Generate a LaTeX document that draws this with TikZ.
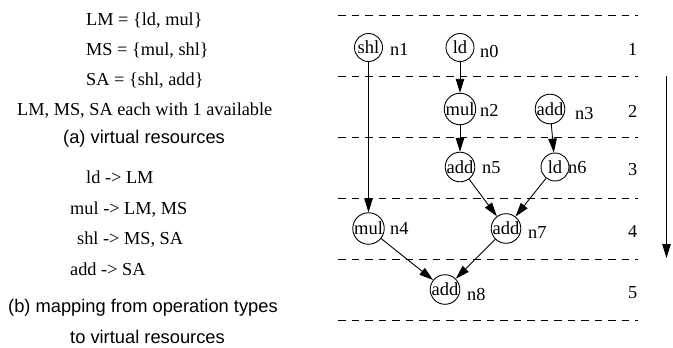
\documentclass[tikz,border=0pt]{standalone}
\usepackage{fontspec}
\setmainfont{Liberation Serif}
\setsansfont{Liberation Sans}
\usetikzlibrary{arrows.meta}
\tikzset{
  txt/.style={font=\fontsize{18.3}{22}\selectfont, inner sep=0pt, anchor=base west},
  captxt/.style={txt, font=\sffamily\fontsize{18.3}{22}\selectfont},
  op/.style={draw, circle, line width=0.9pt, minimum size=28pt, inner sep=0pt,
    font=\fontsize{18.5}{22}\selectfont},
  lbl/.style={txt},
  row/.style={line width=0.9pt, dash pattern=on 7.5pt off 6pt},
  dep/.style={line width=0.9pt, -{Triangle[length=14pt,width=8.5pt]}},
}
\begin{document}
\begin{tikzpicture}[x=1pt,y=-1pt]
\useasboundingbox (0,0) rectangle (673,348);

% (a) virtual resources
\node[txt] (lm)  at (86,25)  {LM = \{ld, mul\}};
\node[txt] (ms)  at (86,55)  {MS = \{mul, shl\}};
\node[txt] (sa)  at (86,85)  {SA = \{shl, add\}};
\node[txt] (avl) at (17,115) {LM, MS, SA each with 1 available};
\node[captxt] (capa) at (63,143) {(a) virtual resources};

% (b) operation type mapping
\node[txt] (mld)  at (86,183) {ld -> LM};
\node[txt] (mmul) at (70,214) {mul -> LM, MS};
\node[txt] (mshl) at (77,244) {shl -> MS, SA};
\node[txt] (madd) at (70,275) {add -> SA};
\node[captxt] (capb1) at (8,312) {(b) mapping from operation types};
\node[captxt] (capb2) at (70,343) {to virtual resources};

% control step boundaries
\foreach \y [count=\i] in {15,76,137,198,259,320}
  \draw[row] (338,\y) coordinate (bl\i) -- (638,\y) coordinate (br\i);

% step numbers
\node[txt] (s1) at (628,55)  {1};
\node[txt] (s2) at (628,117) {2};
\node[txt] (s3) at (628,175) {3};
\node[txt] (s4) at (628,237) {4};
\node[txt] (s5) at (628,298) {5};

% operations
\node[op] (n1) at (368.5,47.5) {shl};
\node[op] (n0) at (460,47.5)   {ld};
\node[op] (n2) at (460,109)    {mul};
\node[op] (n3) at (550,109)    {add};
\node[op] (n5) at (460,167)    {add};
\node[op] (n6) at (555,167)    {ld};
\node[op] (n4) at (368.5,228.5){mul};
\node[op] (n7) at (506,228.5)  {add};
\node[op] (n8) at (445,289.5)  {add};

% operation names
\node[lbl] (l1) at (390,55)  {n1};
\node[lbl] (l0) at (480,57)  {n0};
\node[lbl] (l2) at (480,116) {n2};
\node[lbl] (l3) at (575,119) {n3};
\node[lbl] (l5) at (482,173) {n5};
\node[lbl] (l6) at (568,173) {n6};
\node[lbl] (l4) at (390,234) {n4};
\node[lbl] (l7) at (528,238) {n7};
\node[lbl] (l8) at (467,300) {n8};

% dependences
\draw[dep] (n1) -- (n4);
\draw[dep] (n0) -- (n2);
\draw[dep] (n2) -- (n5);
\draw[dep] (n3) -- (n6);
\draw[dep] (n5) -- (n7);
\draw[dep] (n6) -- (n7);
\draw[dep] (n4) -- (n8);
\draw[dep] (n7) -- (n8);

% time direction
\coordinate (ttop) at (666.5,76);
\coordinate (tbot) at (666.5,258);
\draw[dep] (ttop) -- (tbot);
\end{tikzpicture}
\end{document}
